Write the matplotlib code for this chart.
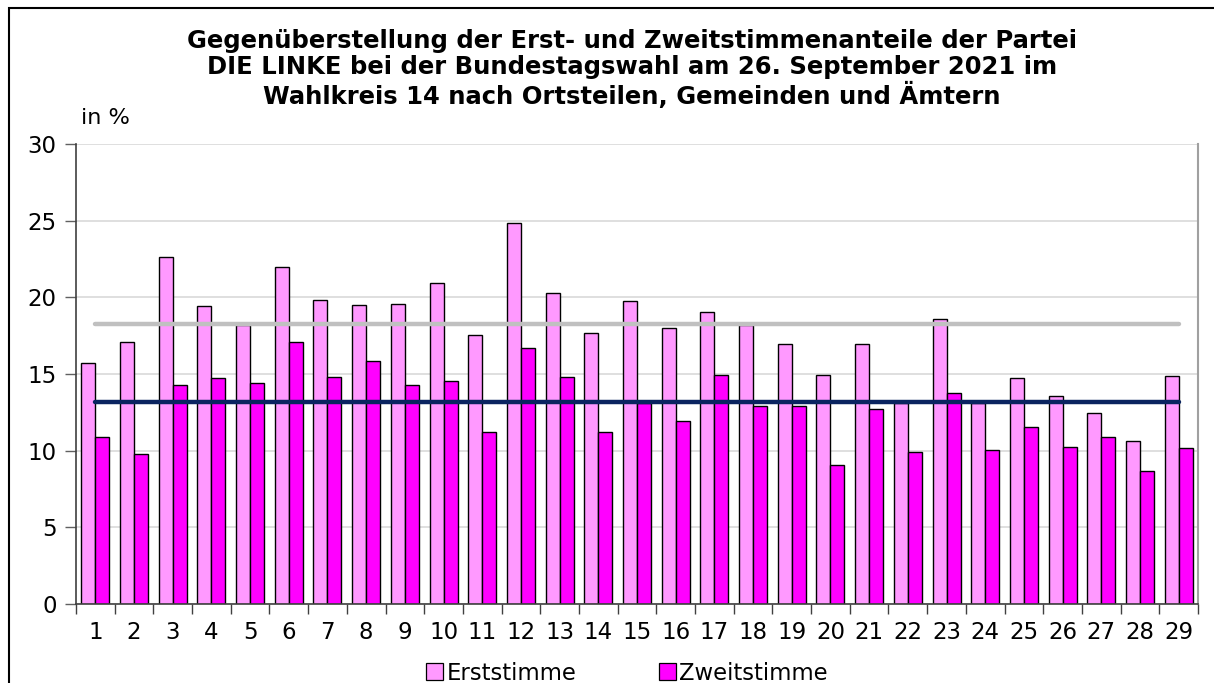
import matplotlib
matplotlib.use("Agg")
import matplotlib.pyplot as plt
from matplotlib.patches import Rectangle, Patch
import numpy as np

plt.rcParams['font.family'] = ['DejaVu Sans']

categories = [str(i) for i in range(1, 30)]
erststimme = [15.74, 17.1, 22.65, 19.46, 18.2, 22.0, 19.8, 19.52, 19.54, 20.96,
              17.52, 24.83, 20.28, 17.67, 19.74, 18.02, 19.07, 18.2, 16.93, 14.91,
              16.93, 13.1, 18.57, 13.1, 14.76, 13.59, 12.46, 10.63, 14.89]
zweitstimme = [10.89, 9.78, 14.3, 14.76, 14.43, 17.07, 14.8, 15.87, 14.3, 14.57,
               11.24, 16.67, 14.83, 11.2, 13.1, 11.96, 14.93, 12.93, 12.91, 9.04,
               12.7, 9.93, 13.78, 10.07, 11.52, 10.24, 10.89, 8.7, 10.15]
land_erst = 18.25
land_zweit = 13.2
title = ("Gegenüberstellung der Erst- und Zweitstimmenanteile der Partei\n"
         "DIE LINKE bei der Bundestagswahl am 26. September 2021 im\n"
         "Wahlkreis 14 nach Ortsteilen, Gemeinden und Ämtern")

W, H = 1214, 683
fig = plt.figure(figsize=(W / 100, H / 100), dpi=100)
ax = fig.add_axes([76 / W, 1 - 604 / H, 1122 / W, 460 / H])

x = np.arange(len(categories))
bw = 0.362
c1 = '#FF99FF'
c2 = '#FF00FF'
ax.bar(x - bw / 2, erststimme, bw, color=c1, edgecolor='black', linewidth=1.0, zorder=2, label='Erststimme')
ax.bar(x + bw / 2, zweitstimme, bw, color=c2, edgecolor='black', linewidth=1.0, zorder=2, label='Zweitstimme')
ax.plot(x, [land_erst] * len(x), color='#C0C0C0', linewidth=3.2, zorder=3, solid_capstyle='round')
ax.plot(x, [land_zweit] * len(x), color='#0A2460', linewidth=3.2, zorder=3, solid_capstyle='round')

ax.set_xlim(-0.5, len(x) - 0.5)
ax.set_ylim(0, 30)
ax.set_yticks(np.arange(0, 31, 5))
ax.yaxis.grid(True, color='#D9D9D9', linewidth=1.2, zorder=0)
ax.set_axisbelow(True)
ax.set_xticks(x)
ax.set_xticklabels(categories)
ax.set_xticks(np.arange(-0.5, len(x), 1), minor=True)
ax.tick_params(axis='x', which='major', length=0, pad=12, labelsize=16.5)
ax.tick_params(axis='x', which='minor', length=7, width=1, color='#404040', direction='out')
ax.tick_params(axis='y', length=8, width=1, color='#606060', labelsize=16.5, pad=6)
for s in ['left', 'bottom']:
    ax.spines[s].set_color('#404040')
    ax.spines[s].set_linewidth(1.2)
ax.spines['top'].set_visible(False)
ax.spines['right'].set_color('#A0A0A0')
ax.spines['right'].set_linewidth(1.5)

fig.text(632 / W, 1 - 69 / H, title, ha='center', va='center', fontsize=17.5,
         fontweight='bold', linespacing=1.12)
fig.text(81 / W, 1 - 117.5 / H, 'in %', ha='left', va='center', fontsize=16.2)

handles = [Patch(facecolor=c1, edgecolor='black', linewidth=0.9),
           Patch(facecolor=c2, edgecolor='black', linewidth=0.9)]
fig.legend(handles, ['Erststimme', 'Zweitstimme'], loc='center',
           bbox_to_anchor=(627 / W, 1 - 673 / H), ncol=2, frameon=False,
           fontsize=16.4, handlelength=0.75, handleheight=0.75, handletextpad=0.15,
           columnspacing=3.6, borderpad=0, borderaxespad=0)

fig.patches.append(Rectangle((9 / W, -0.1), 1.2, 1 - 8 / H + 0.1, transform=fig.transFigure,
                             fill=False, edgecolor='black', linewidth=1.5, zorder=0))

fig.savefig('out.png', dpi=100)
